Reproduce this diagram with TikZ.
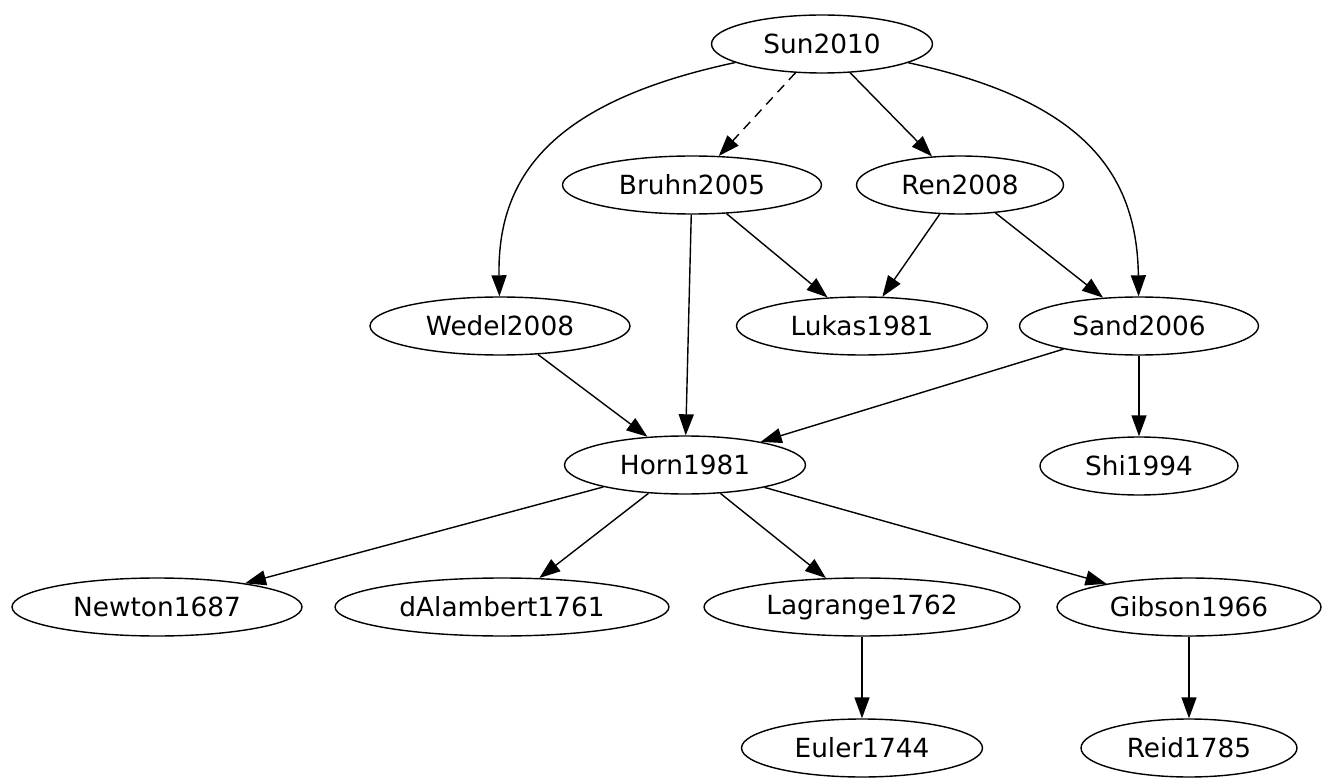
\documentclass[tikz,border=0pt]{standalone}
\usepackage{fontspec}
\setmainfont{DejaVu Sans}
\usetikzlibrary{shapes.geometric,arrows.meta}

\begin{document}
\begin{tikzpicture}[x=0.02cm,y=-0.02cm]

\tikzstyle{paper}=[ellipse,draw,line width=0.8pt,inner sep=0pt,minimum height=1.16cm,font=\fontsize{15}{18}\selectfont]
\tikzstyle{cite}=[-{Triangle[length=0.42cm,width=0.3cm]},line width=0.8pt]

\useasboundingbox (0,0) rectangle (1325,780);

\node[paper,minimum width=4.42cm] (Sun)      at (822, 44)  {Sun2010} ;
\node[paper,minimum width=5.18cm] (Bruhn)    at (692,185)  {Bruhn2005} ;
\node[paper,minimum width=4.14cm] (Ren)      at (960,185)  {Ren2008} ;
\node[paper,minimum width=5.2cm]  (Wedel)    at (500,326)  {Wedel2008} ;
\node[paper,minimum width=5.02cm] (Lukas)    at (862,326)  {Lukas1981} ;
\node[paper,minimum width=4.78cm] (Sand)     at (1139,326) {Sand2006} ;
\node[paper,minimum width=4.82cm] (Horn)     at (685,465)  {Horn1981} ;
\node[paper,minimum width=3.96cm] (Shi)      at (1139,466) {Shi1994} ;
\node[paper,minimum width=5.8cm]  (Newton)   at (157,607)  {Newton1687} ;
\node[paper,minimum width=6.68cm] (dAlembert) at (502,607) {dAlambert1761} ;
\node[paper,minimum width=6.32cm] (Lagrange) at (862,607)  {Lagrange1762} ;
\node[paper,minimum width=5.28cm] (Gibson)   at (1189,607) {Gibson1966} ;
\node[paper,minimum width=4.82cm] (Euler)    at (862,748)  {Euler1744} ;
\node[paper,minimum width=4.32cm] (Reid)     at (1189,748) {Reid1785} ;

% citations
\draw[cite] (Sun) .. controls (560,100) and (497,170) .. (Wedel);
\draw[cite,dash pattern=on 5.5pt off 4pt] (Sun) -- (Bruhn);
\draw[cite] (Sun) -- (Ren);
\draw[cite] (Sun) .. controls (1080,100) and (1137,170) .. (Sand);
\draw[cite] (Bruhn) -- (Lukas);
\draw[cite] (Bruhn) -- (Horn);
\draw[cite] (Ren) -- (Lukas);
\draw[cite] (Ren) -- (Sand);
\draw[cite] (Wedel) -- (Horn);
\draw[cite] (Sand) -- (Horn);
\draw[cite] (Sand) -- (Shi);
\draw[cite] (Horn) -- (Newton);
\draw[cite] (Horn) -- (dAlembert);
\draw[cite] (Horn) -- (Lagrange);
\draw[cite] (Horn) -- (Gibson);
\draw[cite] (Lagrange) -- (Euler);
\draw[cite] (Gibson) -- (Reid);

\end{tikzpicture}
\end{document}
